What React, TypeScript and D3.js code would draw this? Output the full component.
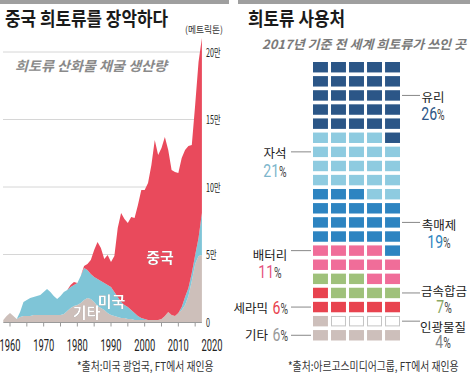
import * as d3 from 'd3';

// 희토류 산화물 채굴 생산량 (메트릭톤), 1958~2017
const years = d3.range(1958, 2018);
const otherProd = [
  1500, 4400, 6700, 4400, 2200, 3700, 4400, 4400, 4400, 5200,
  5200, 5200, 5200, 5200, 5200, 5200, 5200, 5200, 5900, 8100,
  10400, 11900, 12600, 14100, 16300, 17800, 17000, 14800, 11900, 10400,
  8900, 6700, 5200, 4400, 3700, 3000, 3000, 2200, 2200, 1500,
  1500, 1500, 1500, 1500, 1500, 1500, 1500, 2200, 4400, 7400,
  5200, 4400, 6700, 8900, 12600, 19300, 30400, 43000, 48900, 49600,
];
const usProd = [
  0, 0, 0, 0, 0, 3700, 10400, 11900, 13300, 13300,
  14100, 14800, 17000, 19300, 17000, 14100, 11900, 14100, 16300, 15600,
  15600, 15600, 16300, 20000, 23700, 20700, 18500, 18500, 20000, 20000,
  20000, 20700, 20700, 17800, 14800, 11900, 9600, 8900, 6700, 5200,
  3000, 1500, 700, 0, 0, 0, 0, 0, 0, 0,
  0, 0, 0, 2200, 5900, 5900, 5900, 6700, 13300, 31100,
];
const chinaProd = [
  0, 0, 0, 0, 0, 0, 0, 0, 0, 0,
  0, 0, 0, 0, 0, 0, 0, 0, 0, 0,
  1500, 2200, 0, 0, 1500, 4400, 10400, 20000, 27400, 24400,
  17800, 22200, 18500, 26700, 51100, 65900, 63700, 62200, 68900, 70400,
  82200, 94800, 95600, 101500, 114800, 133300, 122200, 126700, 132600, 120000,
  107400, 106700, 103700, 110400, 108900, 105200, 94800, 111100, 130400, 129600,
];
const yTicks = [0, 50000, 100000, 150000, 200000];
const yTickLabels = ['0', '5만', '10만', '15만', '20만'];
const xLabelYears = [1960, 1970, 1980, 1990, 2000, 2010, 2020];
const xTickYears = [1960, 1965, 1970, 1975, 1980, 1985, 1990, 1995, 2000, 2005, 2010, 2015];

// 2017년 기준 희토류 사용처 (%)
const usageNames = ['유리', '자석', '촉매제', '배터리', '금속합금', '세라믹', '인광물질', '기타'];
const usageShares = [26, 21, 19, 11, 7, 6, 4, 6];

const KR = '"Noto Sans CJK KR", "Noto Sans", sans-serif';
const NUM = 'Roboto, "Noto Sans", sans-serif';

const layerColors: Record<string, string> = { other: '#cdbfba', us: '#7fc5d7', china: '#e94a5c' };

const cellColors: Record<string, string> = {
  유리: '#2b5687', 자석: '#8ecbe0', 촉매제: '#2d84c1', 배터리: '#f06d99',
  금속합금: '#9fc17b', 세라믹: '#e8434f', 인광물질: '#ffffff', 기타: '#cdbfbb',
};
const pctColors: Record<string, string> = {
  유리: '#2b5687', 자석: '#7db6cc', 촉매제: '#2d84c1', 배터리: '#e5517f',
  금속합금: '#8aa764', 세라믹: '#e8434f', 인광물질: '#8a8a8a', 기타: '#9a9a9a',
};

// label placement beside the waffle
const labelLayout: Record<string, { row: number; side: string; cx: number; nameDy: number; pctDy: number }> = {
  유리: { row: 2, side: 'right', cx: 433, nameDy: 6.5, pctDy: 25 },
  자석: { row: 6, side: 'left', cx: 275, nameDy: 6, pctDy: 25 },
  촉매제: { row: 11, side: 'right', cx: 439, nameDy: 8, pctDy: 25.5 },
  배터리: { row: 13, side: 'left', cx: 270, nameDy: 9.5, pctDy: 27.5 },
  금속합금: { row: 16, side: 'right', cx: 444, nameDy: 3.5, pctDy: 20 },
  세라믹: { row: 17, side: 'inline', cx: 288, nameDy: 6, pctDy: 6.5 },
  인광물질: { row: 18, side: 'right', cx: 443, nameDy: 10.5, pctDy: 26.5 },
  기타: { row: 19, side: 'inline', cx: 288, nameDy: 5, pctDy: 5.5 },
};

function Pct({ x, y, value, color, anchor }: { x: number; y: number; value: number; color: string; anchor: string }) {
  return (
    <text transform={`translate(${x},${y}) scale(0.74,1)`} textAnchor={anchor} fontFamily={NUM}>
      <tspan fontSize={19} fill={color}>{value}</tspan>
      <tspan fontSize={14} fill="#444">%</tspan>
    </text>
  );
}

export default function App() {
  // ----- left: stacked area -----
  const x = d3.scaleLinear().domain([1960, 2020]).range([10, 212]);
  const y = d3.scaleLinear().domain([0, 200000]).range([322, 52]);

  const table = years.map((yr, i) => ({ year: yr, other: otherProd[i], us: usProd[i], china: chinaProd[i] }));
  const series = d3.stack<any>().keys(['other', 'us', 'china'])(table);
  const area = d3.area<any>()
    .x(d => x(d.data.year))
    .y0(d => y(d[0]))
    .y1(d => y(d[1]));

  // ----- right: waffle -----
  const cells: string[] = [];
  [...usageNames].reverse().forEach((name) => {
    const share = usageShares[usageNames.indexOf(name)];
    for (let k = 0; k < share; k++) cells.push(name);
  });
  const rows = d3.scaleBand<number>().domain(d3.range(20)).range([62, 340.5]).paddingInner(0.26);
  const cols = d3.scaleBand<number>().domain(d3.range(5)).range([313, 400]).paddingInner(0.17);
  const rowMid = (r: number) => (rows(r) as number) + rows.bandwidth() / 2;

  const shadow = { filter: 'drop-shadow(0.8px 0.8px 0.6px rgba(0,0,0,0.55))' };

  return (
    <svg width={470} height={373} style={{ position: 'absolute', left: 0, top: 0, background: '#fff' }}>
      <rect x={0} y={0} width={229} height={4} fill="#9f9f9f" />
      <rect x={238} y={0} width={232} height={4} fill="#9f9f9f" />

      {/* left panel */}
      <text x={5} y={26} fontFamily={KR} fontWeight={700} fontSize={19} fill="#1a1a1a" textLength={163} lengthAdjust="spacingAndGlyphs">
        중국 희토류를 장악하다
      </text>
      <text x={15} y={71} fontFamily={KR} fontWeight={700} fontStyle="italic" fontSize={13.5} fill="#8a8a8a" textLength={152} lengthAdjust="spacingAndGlyphs">
        희토류 산화물 채굴 생산량
      </text>
      <text x={185} y={33} fontFamily={KR} fontSize={9.5} fill="#333" textLength={38} lengthAdjust="spacingAndGlyphs">
        (메트릭톤)
      </text>

      {yTicks.slice(1).map(t => (
        <line key={t} x1={3} x2={202} y1={y(t)} y2={y(t)} stroke="#d6d6d6" strokeWidth={1} />
      ))}

      {series.map(s => (
        <path key={s.key} d={area(s) as string} fill={layerColors[s.key]} />
      ))}

      <line x1={x(1958)} x2={x(2017)} y1={322.5} y2={322.5} stroke="#9a9a9a" />
      {xTickYears.map(t => (
        <line key={t} x1={x(t)} x2={x(t)} y1={322.5} y2={326.5} stroke="#9a9a9a" />
      ))}
      {xLabelYears.map(t => (
        <text key={t} x={x(t) - 10.5} y={351} fontFamily={NUM} fontSize={16} fill="#222" textLength={21} lengthAdjust="spacingAndGlyphs">
          {t}
        </text>
      ))}
      {yTicks.map((t, i) => (
        <text key={t} transform={`translate(206,${y(t) + 4.5}) scale(0.62,1)`} fontFamily={KR} fontSize={11.5} fill="#222">
          {yTickLabels[i]}
        </text>
      ))}

      <text x={160} y={262.5} textAnchor="middle" fontFamily={KR} fontWeight={700} fontSize={15} fill="#fff" style={shadow}>중국</text>
      <text x={111.5} y={307} textAnchor="middle" fontFamily={KR} fontWeight={700} fontSize={15} fill="#fff" style={shadow}>미국</text>
      <text x={86.5} y={317.5} textAnchor="middle" fontFamily={KR} fontWeight={700} fontSize={15} fill="#fff" style={shadow}>기타</text>

      <text transform="translate(77,371) scale(0.82,1)" fontFamily={KR} fontSize={12} fill="#333">
        *출처:미국 광업국, FT에서 재인용
      </text>

      {/* right panel */}
      <text x={248} y={26} fontFamily={KR} fontWeight={700} fontSize={19} fill="#1a1a1a" textLength={97} lengthAdjust="spacingAndGlyphs">
        희토류 사용처
      </text>
      <text x={262} y={49} fontFamily={KR} fontWeight={700} fontStyle="italic" fontSize={12.5} fill="#7a7a7a" textLength={204} lengthAdjust="spacingAndGlyphs">
        2017년 기준 전 세계 희토류가 쓰인 곳
      </text>

      {cells.map((name, i) => {
        const r = 19 - Math.floor(i / 5);
        const c = i % 5;
        const empty = name === '인광물질';
        return (
          <rect
            key={i}
            x={(cols(c) as number) + (empty ? 0.5 : 0)}
            y={(rows(r) as number) + (empty ? 0.5 : 0)}
            width={cols.bandwidth() - (empty ? 1 : 0)}
            height={rows.bandwidth() - (empty ? 1 : 0)}
            fill={cellColors[name]}
            stroke={empty ? '#c4c4c4' : 'none'}
          />
        );
      })}

      {usageNames.map((name, i) => {
        const L = labelLayout[name];
        const my = rowMid(L.row);
        if (L.side === 'inline') {
          return (
            <g key={name}>
              <line x1={291} x2={311} y1={my} y2={my} stroke="#888" />
              <text x={L.cx - 20} y={my + L.nameDy} textAnchor="end" fontFamily={KR} fontSize={12.5} fill="#222">{name}</text>
              <Pct x={L.cx} y={my + L.pctDy} value={usageShares[i]} color={pctColors[name]} anchor="end" />
            </g>
          );
        }
        const right = L.side === 'right';
        return (
          <g key={name}>
            <line x1={right ? 402 : 291} x2={right ? 420 : 311} y1={my} y2={my} stroke="#888" />
            <text x={L.cx} y={my + L.nameDy} textAnchor="middle" fontFamily={KR} fontSize={12.5} fill="#222">{name}</text>
            <Pct x={L.cx} y={my + L.pctDy} value={usageShares[i]} color={pctColors[name]} anchor="middle" />
          </g>
        );
      })}

      <text transform="translate(288,371) scale(0.82,1)" fontFamily={KR} fontSize={12} fill="#333">
        *출처:아르고스미디어그룹, FT에서 재인용
      </text>
    </svg>
  );
}
